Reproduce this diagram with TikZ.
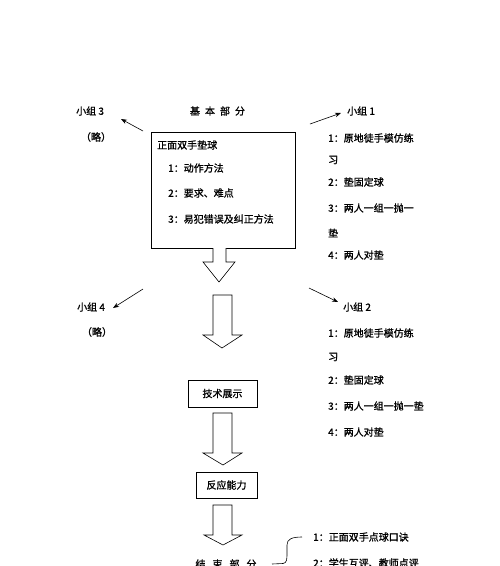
\documentclass[tikz,border=0pt]{standalone}
\usepackage{fontspec}
\newfontfamily\cjk[FakeBold=1.2]{Noto Sans CJK SC}
\usetikzlibrary{arrows.meta}
\begin{document}
\begin{tikzpicture}[x=1pt,y=-1pt,
  txt/.style={font=\cjk\fontsize{10}{12}\selectfont, inner sep=0pt, anchor=west},
  ctxt/.style={font=\cjk\fontsize{10}{12}\selectfont, inner sep=0pt},
  ptr/.style={-{Stealth[length=6pt,width=4.5pt]}, line width=0.6pt},
  bigarrow/.style={draw, line width=0.6pt, fill=white, line join=miter},
  boxed/.style={draw, line width=0.7pt, inner sep=0pt}]
\useasboundingbox (0,0) rectangle (500,566);

% main box
\node[boxed, minimum width=144pt, minimum height=116pt, anchor=north west] (main) at (151,132) {};
\node[txt] (m0) at (157,145) {正面双手垫球};
\node[txt] (m1) at (168,168) {1：动作方法};
\node[txt] (m2) at (168,193) {2：要求、难点};
\node[txt] (m3) at (168,219) {3：易犯错误及纠正方法};

\node[ctxt] (basic) at (217.5,111) {基\hspace{5pt}本\hspace{5pt}部\hspace{5pt}分};

% group 3
\node[txt] (g3) at (76,111) {小组 3};
\node[ctxt] (g3l) at (96,137) {（略）};
\coordinate (a3s) at (143,131);
\coordinate (a3e) at (121,119);
\draw[ptr] (a3s) -- (a3e);

% group 4
\node[txt] (g4) at (77,307) {小组 4};
\node[ctxt] (g4l) at (97,332) {（略）};
\coordinate (a4s) at (143,289);
\coordinate (a4e) at (113,308);
\draw[ptr] (a4s) -- (a4e);

% group 1
\node[txt] (g1) at (347,111) {小组 1};
\coordinate (a1s) at (310,124);
\coordinate (a1e) at (341,113);
\draw[ptr] (a1s) -- (a1e);
\node[txt] (g1a) at (328,138) {1：原地徒手模仿练};
\node[txt] (g1b) at (328,160) {习};
\node[txt] (g1c) at (328,182) {2：垫固定球};
\node[txt] (g1d) at (328,208) {3：两人一组一抛一};
\node[txt] (g1e) at (328,233) {垫};
\node[txt] (g1f) at (328,255) {4：两人对垫};

% group 2
\node[txt] (g2) at (343,307) {小组 2};
\coordinate (a2s) at (309,288);
\coordinate (a2e) at (338,302);
\draw[ptr] (a2s) -- (a2e);
\node[txt] (g2a) at (328,333) {1：原地徒手模仿练};
\node[txt] (g2b) at (328,357) {习};
\node[txt] (g2c) at (328,380) {2：垫固定球};
\node[txt] (g2d) at (328,406) {3：两人一组一抛一垫};
\node[txt] (g2e) at (328,432) {4：两人对垫};

% block arrow 1
\draw[bigarrow] (213,248) -- (213,262) -- (203,262) -- (219,282) -- (235,262) -- (226,262) -- (226,248);

% block arrow 2
\draw[bigarrow] (213,295) -- (213,335) -- (203,335) -- (222,348) -- (242,335) -- (232,335) -- (232,295) -- cycle;

% skill box
\node[boxed, minimum width=69pt, minimum height=27pt, font=\cjk\fontsize{10}{12}\selectfont] (skill) at (222.5,393.5) {技术展示};

% block arrow 3
\draw[bigarrow] (213,413) -- (213,453) -- (203,453) -- (223,465) -- (242,453) -- (232,453) -- (232,413) -- cycle;

% reaction box
\node[boxed, minimum width=61pt, minimum height=26pt, font=\cjk\fontsize{10}{12}\selectfont] (react) at (226.5,485) {反应能力};

% block arrow 4
\draw[bigarrow] (213,505) -- (213,535) -- (204,535) -- (223,545) -- (242,535) -- (232,535) -- (232,505) -- cycle;

% ending part
\node[ctxt] (endp) at (226,564) {结\hspace{7pt}束\hspace{7pt}部\hspace{7pt}分};
\coordinate (bs) at (272,564);
\coordinate (be) at (302,537);
\draw[line width=0.6pt] (bs) -- (283,563.5) .. controls (287,563) and (287,559) .. (287,553) -- (287,545) .. controls (287,539) and (292,537) .. (be);
\node[txt] (e1) at (313,537) {1：正面双手点球口诀};
\node[txt] (e2) at (313,563) {2：学生互评、教师点评};
\end{tikzpicture}
\end{document}
